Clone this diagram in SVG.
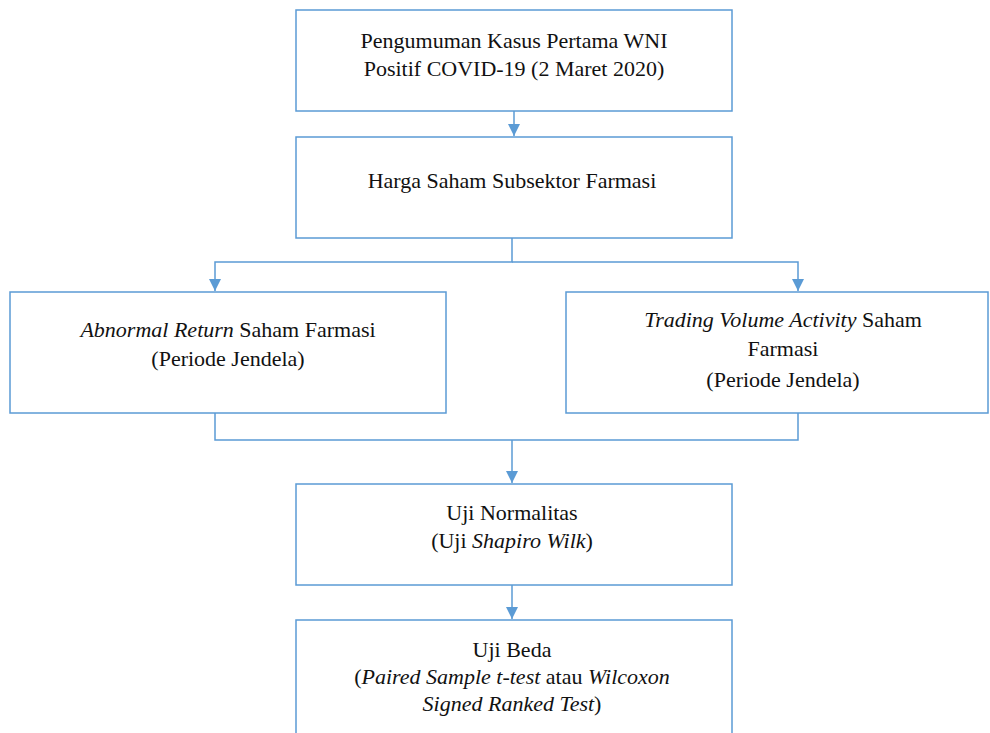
<svg xmlns="http://www.w3.org/2000/svg" width="990" height="733" viewBox="0 0 990 733">
<defs>
<marker id="ah" viewBox="0 0 12 12" refX="12" refY="6" markerWidth="12" markerHeight="12" markerUnits="userSpaceOnUse" orient="auto">
<path d="M0,0 L12,6 L0,12 z" fill="#5B9BD5"/>
</marker>
</defs>
<rect width="990" height="733" fill="#fff"/>
<g id="connectors" fill="none" stroke="#5B9BD5" stroke-width="1.5">
<path d="M514,111 V136" marker-end="url(#ah)"/>
<path d="M512,238 V262 H215 V291" marker-end="url(#ah)"/>
<path d="M512,262 H798 V291" marker-end="url(#ah)"/>
<path d="M215,413 V440 H798 V413"/>
<path d="M512,440 V483" marker-end="url(#ah)"/>
<path d="M512,585 V619" marker-end="url(#ah)"/>
</g>
<g id="n1"><rect x="296" y="10" width="436" height="101" fill="#fff" stroke="#5B9BD5" stroke-width="1.5"/>
<text style="font-family:'Times New Roman','Liberation Serif',serif;font-size:22px" fill="#111" text-anchor="middle" x="514" y="48">Pengumuman Kasus Pertama WNI</text>
<text style="font-family:'Times New Roman','Liberation Serif',serif;font-size:22px" fill="#111" text-anchor="middle" x="514" y="76">Positif COVID-19 (2 Maret 2020)</text></g>
<g id="n2"><rect x="296" y="137" width="436" height="101" fill="#fff" stroke="#5B9BD5" stroke-width="1.5"/>
<text style="font-family:'Times New Roman','Liberation Serif',serif;font-size:22px" fill="#111" text-anchor="middle" x="512" y="188">Harga Saham Subsektor Farmasi</text></g>
<g id="n3"><rect x="10" y="292" width="436" height="121" fill="#fff" stroke="#5B9BD5" stroke-width="1.5"/>
<text style="font-family:'Times New Roman','Liberation Serif',serif;font-size:22px" fill="#111" text-anchor="middle" x="228" y="337"><tspan font-style="italic">Abnormal Return</tspan> Saham Farmasi</text>
<text style="font-family:'Times New Roman','Liberation Serif',serif;font-size:22px" fill="#111" text-anchor="middle" x="228" y="366">(Periode Jendela)</text></g>
<g id="n4"><rect x="566" y="292" width="422" height="121" fill="#fff" stroke="#5B9BD5" stroke-width="1.5"/>
<text style="font-family:'Times New Roman','Liberation Serif',serif;font-size:22px" fill="#111" text-anchor="middle" x="783" y="327"><tspan font-style="italic">Trading Volume Activity</tspan> Saham</text>
<text style="font-family:'Times New Roman','Liberation Serif',serif;font-size:22px" fill="#111" text-anchor="middle" x="783" y="356">Farmasi</text>
<text style="font-family:'Times New Roman','Liberation Serif',serif;font-size:22px" fill="#111" text-anchor="middle" x="783" y="387">(Periode Jendela)</text></g>
<g id="n5"><rect x="296" y="484" width="436" height="101" fill="#fff" stroke="#5B9BD5" stroke-width="1.5"/>
<text style="font-family:'Times New Roman','Liberation Serif',serif;font-size:22px" fill="#111" text-anchor="middle" x="512" y="520">Uji Normalitas</text>
<text style="font-family:'Times New Roman','Liberation Serif',serif;font-size:22px" fill="#111" text-anchor="middle" x="512" y="548">(Uji <tspan font-style="italic">Shapiro Wilk</tspan>)</text></g>
<g id="n6"><rect x="296" y="620" width="436" height="120" fill="#fff" stroke="#5B9BD5" stroke-width="1.5"/>
<text style="font-family:'Times New Roman','Liberation Serif',serif;font-size:22px" fill="#111" text-anchor="middle" x="512" y="657">Uji Beda</text>
<text style="font-family:'Times New Roman','Liberation Serif',serif;font-size:22px" fill="#111" text-anchor="middle" x="512" y="684">(<tspan font-style="italic">Paired Sample t-test</tspan> atau <tspan font-style="italic">Wilcoxon</tspan></text>
<text style="font-family:'Times New Roman','Liberation Serif',serif;font-size:22px" fill="#111" text-anchor="middle" x="512" y="711"><tspan font-style="italic">Signed Ranked Test</tspan>)</text></g>
</svg>
